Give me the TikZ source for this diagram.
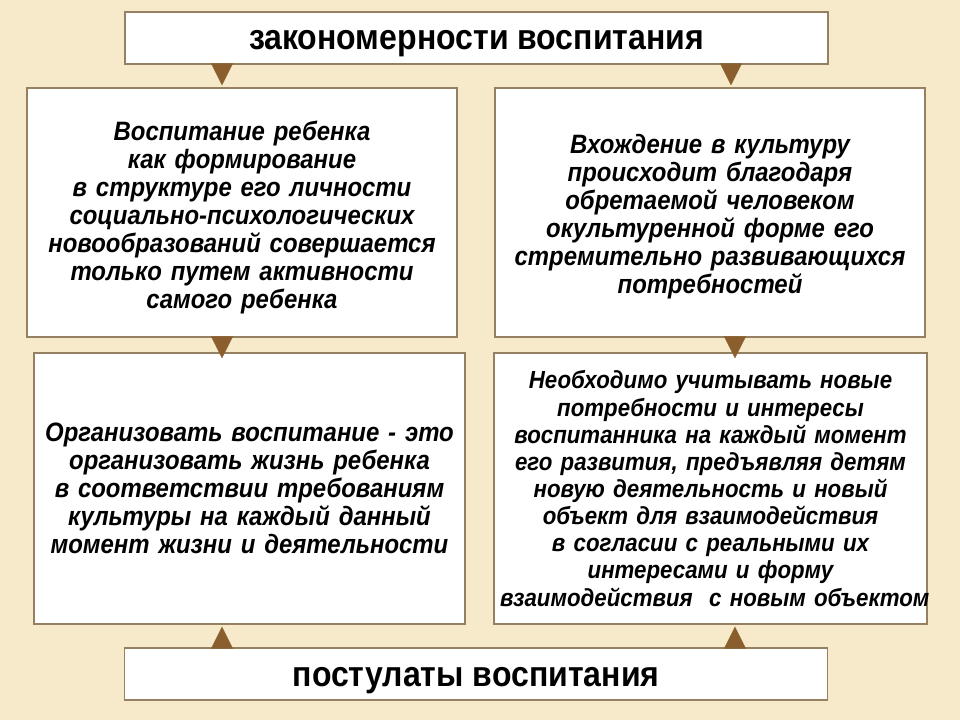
\documentclass[tikz,border=0pt]{standalone}
\usepackage{fontspec}
\setmainfont{Liberation Sans}[FakeStretch=0.9]
\usetikzlibrary{arrows.meta}
\usetikzlibrary{positioning}

\definecolor{paper}{RGB}{246,234,202}
\definecolor{framebrown}{RGB}{150,128,98}
\definecolor{arrowbrown}{RGB}{139,94,46}
\newlength\px
\setlength\px{0.025cm}

\tikzset{
  card/.style={draw=framebrown, line width=1.3\px, fill=white, inner sep=6\px,
    align=center, font=\fontsize{18.9}{19.9}\selectfont\bfseries\itshape},
  lower/.style={execute at begin node={\rule{0pt}{#1}}},
  headline/.style={draw=framebrown, line width=1.3\px, fill=white,
    minimum width=703\px, minimum height=52\px,
    text height=24\px, text depth=0pt,
    font=\fontsize{25.3}{26}\selectfont\bfseries},
  tip/.style={-{Triangle[length=0.55cm,width=0.55cm]}, draw=arrowbrown,
    fill=arrowbrown, line width=0.1pt}
}

\begin{document}
\begin{tikzpicture}[x=1\px, y=-1\px]
    \fill[paper] (0,0) rectangle (960,720);
    \coordinate (xl) at (222,0); \coordinate (xr) at (731,0);
    \coordinate (xrr) at (735,0);
    % headlines
    \node[headline] (law) at (476.5,38) {закономерности воспитания};
    \node[headline] (post) at (476,674) {постулаты воспитания};
    % upper cards
    \node[card, lower=21pt, text width=418\px, minimum height=249\px] (tl)
    at (242,212.5)
    {Воспитание ребенка\\ как формирование\\ в структуре его личности\\
      социально-психологических\\ новообразований совершается\\
      только путем активности\\ самого ребенка};
    \node[card, lower=20pt, text width=418\px, minimum height=249\px] (tr)
    at (710,212.5)
    {Вхождение в культуру\\ происходит благодаря\\ обретаемой человеком\\
      окультуренной форме его\\ стремительно развивающихся\\ потребностей};
    % lower cards
    \node[card, text width=419\px, minimum height=271\px] (bl)
    at (249.5,488.5)
    {Организовать воспитание - это\\ организовать жизнь ребенка\\
      в соответствии требованиям\\ культуры на каждый данный\\
      момент жизни и деятельности};
    \node[card, text width=421\px, minimum height=271\px,
      font=\fontsize{17.6}{19.3}\selectfont\bfseries\itshape] (br)
    at (710.5,488.5)
    {Необходимо учитывать новые\\ потребности и интересы\\
      воспитанника на каждый момент\\ его развития, предъявляя детям\\
      новую деятельность и новый\\ объект для взаимодействия\\
      в согласии с реальными их\\ интересами и форму\\
      \mbox{взаимодействия\ \ с новым объектом}};
    % arrows
    \draw[tip, shorten >=2\px] (law.south -| xl) -- (tl.north -| xl);
    \draw[tip, shorten >=2\px] (law.south -| xr) -- (tr.north -| xr);
    \draw[tip, shorten >=-6\px] (tl.south -| xl) -- (bl.north -| xl);
    \draw[tip, shorten >=-6\px] (tr.south -| xrr) -- (br.north -| xrr);
    \draw[tip, shorten >=2\px] (post.north -| xl) -- (bl.south -| xl);
    \draw[tip, shorten >=2\px] (post.north -| xrr) -- (br.south -| xrr);
\end{tikzpicture}
\end{document}
